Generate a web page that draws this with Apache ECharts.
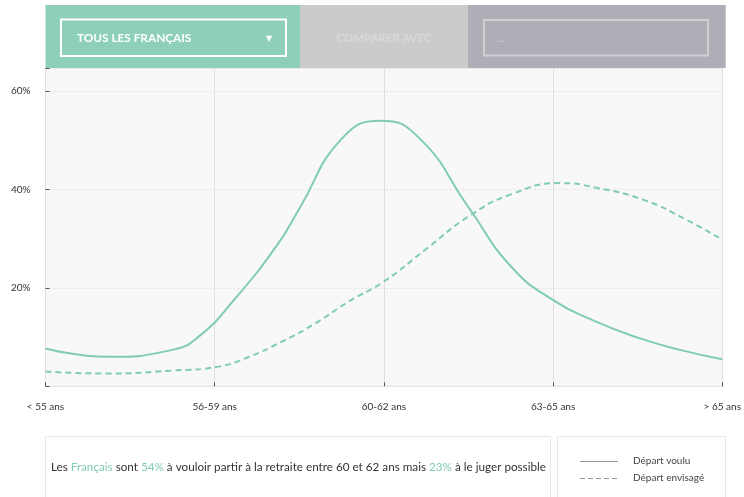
<!DOCTYPE html>
<html>
<head>
<meta charset="utf-8">
<script src="https://cdn.jsdelivr.net/npm/echarts@6/dist/echarts.min.js"></script>
<style>
html,body{margin:0;padding:0;background:#fff;}
#c{width:744px;height:497px;}
</style>
</head>
<body>
<div id="c"></div>
<script>
// Age brackets (x axis categories)
const categories = ['< 55 ans', '56-59 ans', '60-62 ans', '63-65 ans', '> 65 ans'];
// Points: position on the age axis (0 = first bracket, 4 = last) and value (%)
const vouluAt =    [0, 0.362, 0.75, 0.909, 1.125, 1.375, 1.5, 1.75, 1.979, 2.208, 2.5, 2.75, 3.0, 3.25, 3.5, 3.75, 4];
const departVoulu = [7.7, 6.0, 7.4, 10.2, 18.0, 29.0, 36.1, 50.3, 54.0, 50.5, 36.4, 24.4, 17.5, 13.2, 9.9, 7.4, 5.5];
const envisageAt =    [0, 0.36, 0.75, 1.022, 1.203, 1.398, 1.595, 1.79, 2.0, 2.25, 2.5, 2.75, 3.045, 3.25, 3.535, 3.79, 4];
const departEnvisage = [3.0, 2.6, 3.2, 4.0, 6.0, 9.1, 12.8, 17.2, 21.3, 27.9, 34.5, 39.0, 41.3, 40.4, 37.9, 33.8, 29.8];
// Y tick labels
const yTicks = [20, 40, 60];
const seriesNames = ['Départ voulu', 'Départ envisagé'];

const green = '#80ccb2';
const font = 'Lato, "Open Sans", sans-serif';

const chart = echarts.init(document.getElementById('c'));
const toPairs = (xs, vals) => xs.map((x, i) => [x, vals[i]]);

chart.setOption({
  animation: false,
  backgroundColor: '#fff',
  textStyle: { fontFamily: font },
  grid: {
    left: 45.5, right: 18.3, top: 68, bottom: 110.7,
    show: true, backgroundColor: '#f8f8f8', borderColor: '#e3e3e3', borderWidth: 1
  },
  xAxis: {
    type: 'value', min: 0, max: 4, interval: 1,
    axisLine: { show: false },
    axisTick: { show: true, inside: true, length: 4, lineStyle: { color: '#555' } },
    splitLine: { show: true, lineStyle: { color: '#e0e0e0', width: 1 } },
    axisLabel: {
      margin: 15, color: '#333', fontSize: 10, fontFamily: font,
      formatter: (v) => categories[Math.round(v)] || ''
    }
  },
  yAxis: {
    type: 'value', min: 0, max: 64.7, interval: 20,
    axisLine: { show: false },
    axisTick: { show: true, inside: true, length: 4, lineStyle: { color: '#555' } },
    splitLine: { show: true, lineStyle: { color: '#e2e2e2', type: [2, 2] } },
    axisLabel: {
      margin: 15, color: '#333', fontSize: 10, fontFamily: font,
      formatter: (v) => yTicks.indexOf(v) >= 0 ? v + '%' : ''
    }
  },
  series: [
    {
      name: seriesNames[0], type: 'line', smooth: true, symbol: 'none',
      data: toPairs(vouluAt, departVoulu),
      lineStyle: { color: green, width: 2 }
    },
    {
      name: seriesNames[1], type: 'line', smooth: true, symbol: 'none',
      data: toPairs(envisageAt, departEnvisage),
      lineStyle: { color: green, width: 2, type: [6, 4] }
    }
  ],
  graphic: [
    // header band
    { type: 'rect', z: 100, shape: { x: 45.5, y: 5, width: 254.5, height: 63 }, style: { fill: '#8ecfba' } },
    { type: 'rect', z: 100, shape: { x: 300, y: 5, width: 168, height: 63 }, style: { fill: '#cbcbcb' } },
    { type: 'rect', z: 100, shape: { x: 468, y: 5, width: 257.7, height: 63 }, style: { fill: '#afadb5' } },
    { type: 'rect', z: 101, shape: { x: 61, y: 19.5, width: 225, height: 36.5 }, style: { fill: 'none', stroke: '#fff', lineWidth: 2 } },
    { type: 'text', z: 102, x: 77, y: 38, style: { text: 'TOUS LES FRANÇAIS', fill: '#fff', font: 'bold 11.8px ' + font, verticalAlign: 'middle' } },
    { type: 'text', z: 102, x: 269, y: 38.5, style: { text: '▼', fill: '#fff', font: '8px "DejaVu Sans", sans-serif', align: 'center', verticalAlign: 'middle' } },
    { type: 'text', z: 102, x: 384, y: 38, style: { text: 'COMPARER AVEC', fill: '#d9d9d9', font: 'bold 11.4px ' + font, align: 'center', verticalAlign: 'middle' } },
    { type: 'rect', z: 101, shape: { x: 484, y: 20, width: 224, height: 35.5 }, style: { fill: 'none', stroke: '#cfcfd2', lineWidth: 2 } },
    { type: 'text', z: 102, x: 497, y: 38, style: { text: '...', fill: '#cfcfd2', font: '11px ' + font, verticalAlign: 'middle' } },
    // bottom message box
    { type: 'rect', z: 100, shape: { x: 45.5, y: 436.5, width: 505, height: 70 }, style: { fill: '#fff', stroke: '#e6e6e6', lineWidth: 1 } },
    { type: 'text', z: 101, x: 51, y: 467, style: {
        text: 'Les {g|Français} sont {g|54%} à vouloir partir à la retraite entre 60 et 62 ans mais {g|23%} à le juger possible',
        fill: '#333', font: '11.7px ' + font, verticalAlign: 'middle',
        rich: { g: { fill: green, font: '11.7px ' + font } }
    } },
    // legend box
    { type: 'rect', z: 100, shape: { x: 557.5, y: 436.5, width: 168, height: 70 }, style: { fill: '#fff', stroke: '#e6e6e6', lineWidth: 1 } },
    { type: 'line', z: 101, shape: { x1: 580, y1: 461.5, x2: 618, y2: 461.5 }, style: { stroke: '#999', lineWidth: 1 } },
    { type: 'line', z: 101, shape: { x1: 580, y1: 478.5, x2: 618, y2: 478.5 }, style: { stroke: '#999', lineWidth: 1, lineDash: [5, 3] } },
    { type: 'text', z: 101, x: 633, y: 461, style: { text: seriesNames[0], fill: '#444', font: '10px ' + font, verticalAlign: 'middle' } },
    { type: 'text', z: 101, x: 633, y: 478, style: { text: seriesNames[1], fill: '#444', font: '10px ' + font, verticalAlign: 'middle' } }
  ]
});
</script>
</body>
</html>
